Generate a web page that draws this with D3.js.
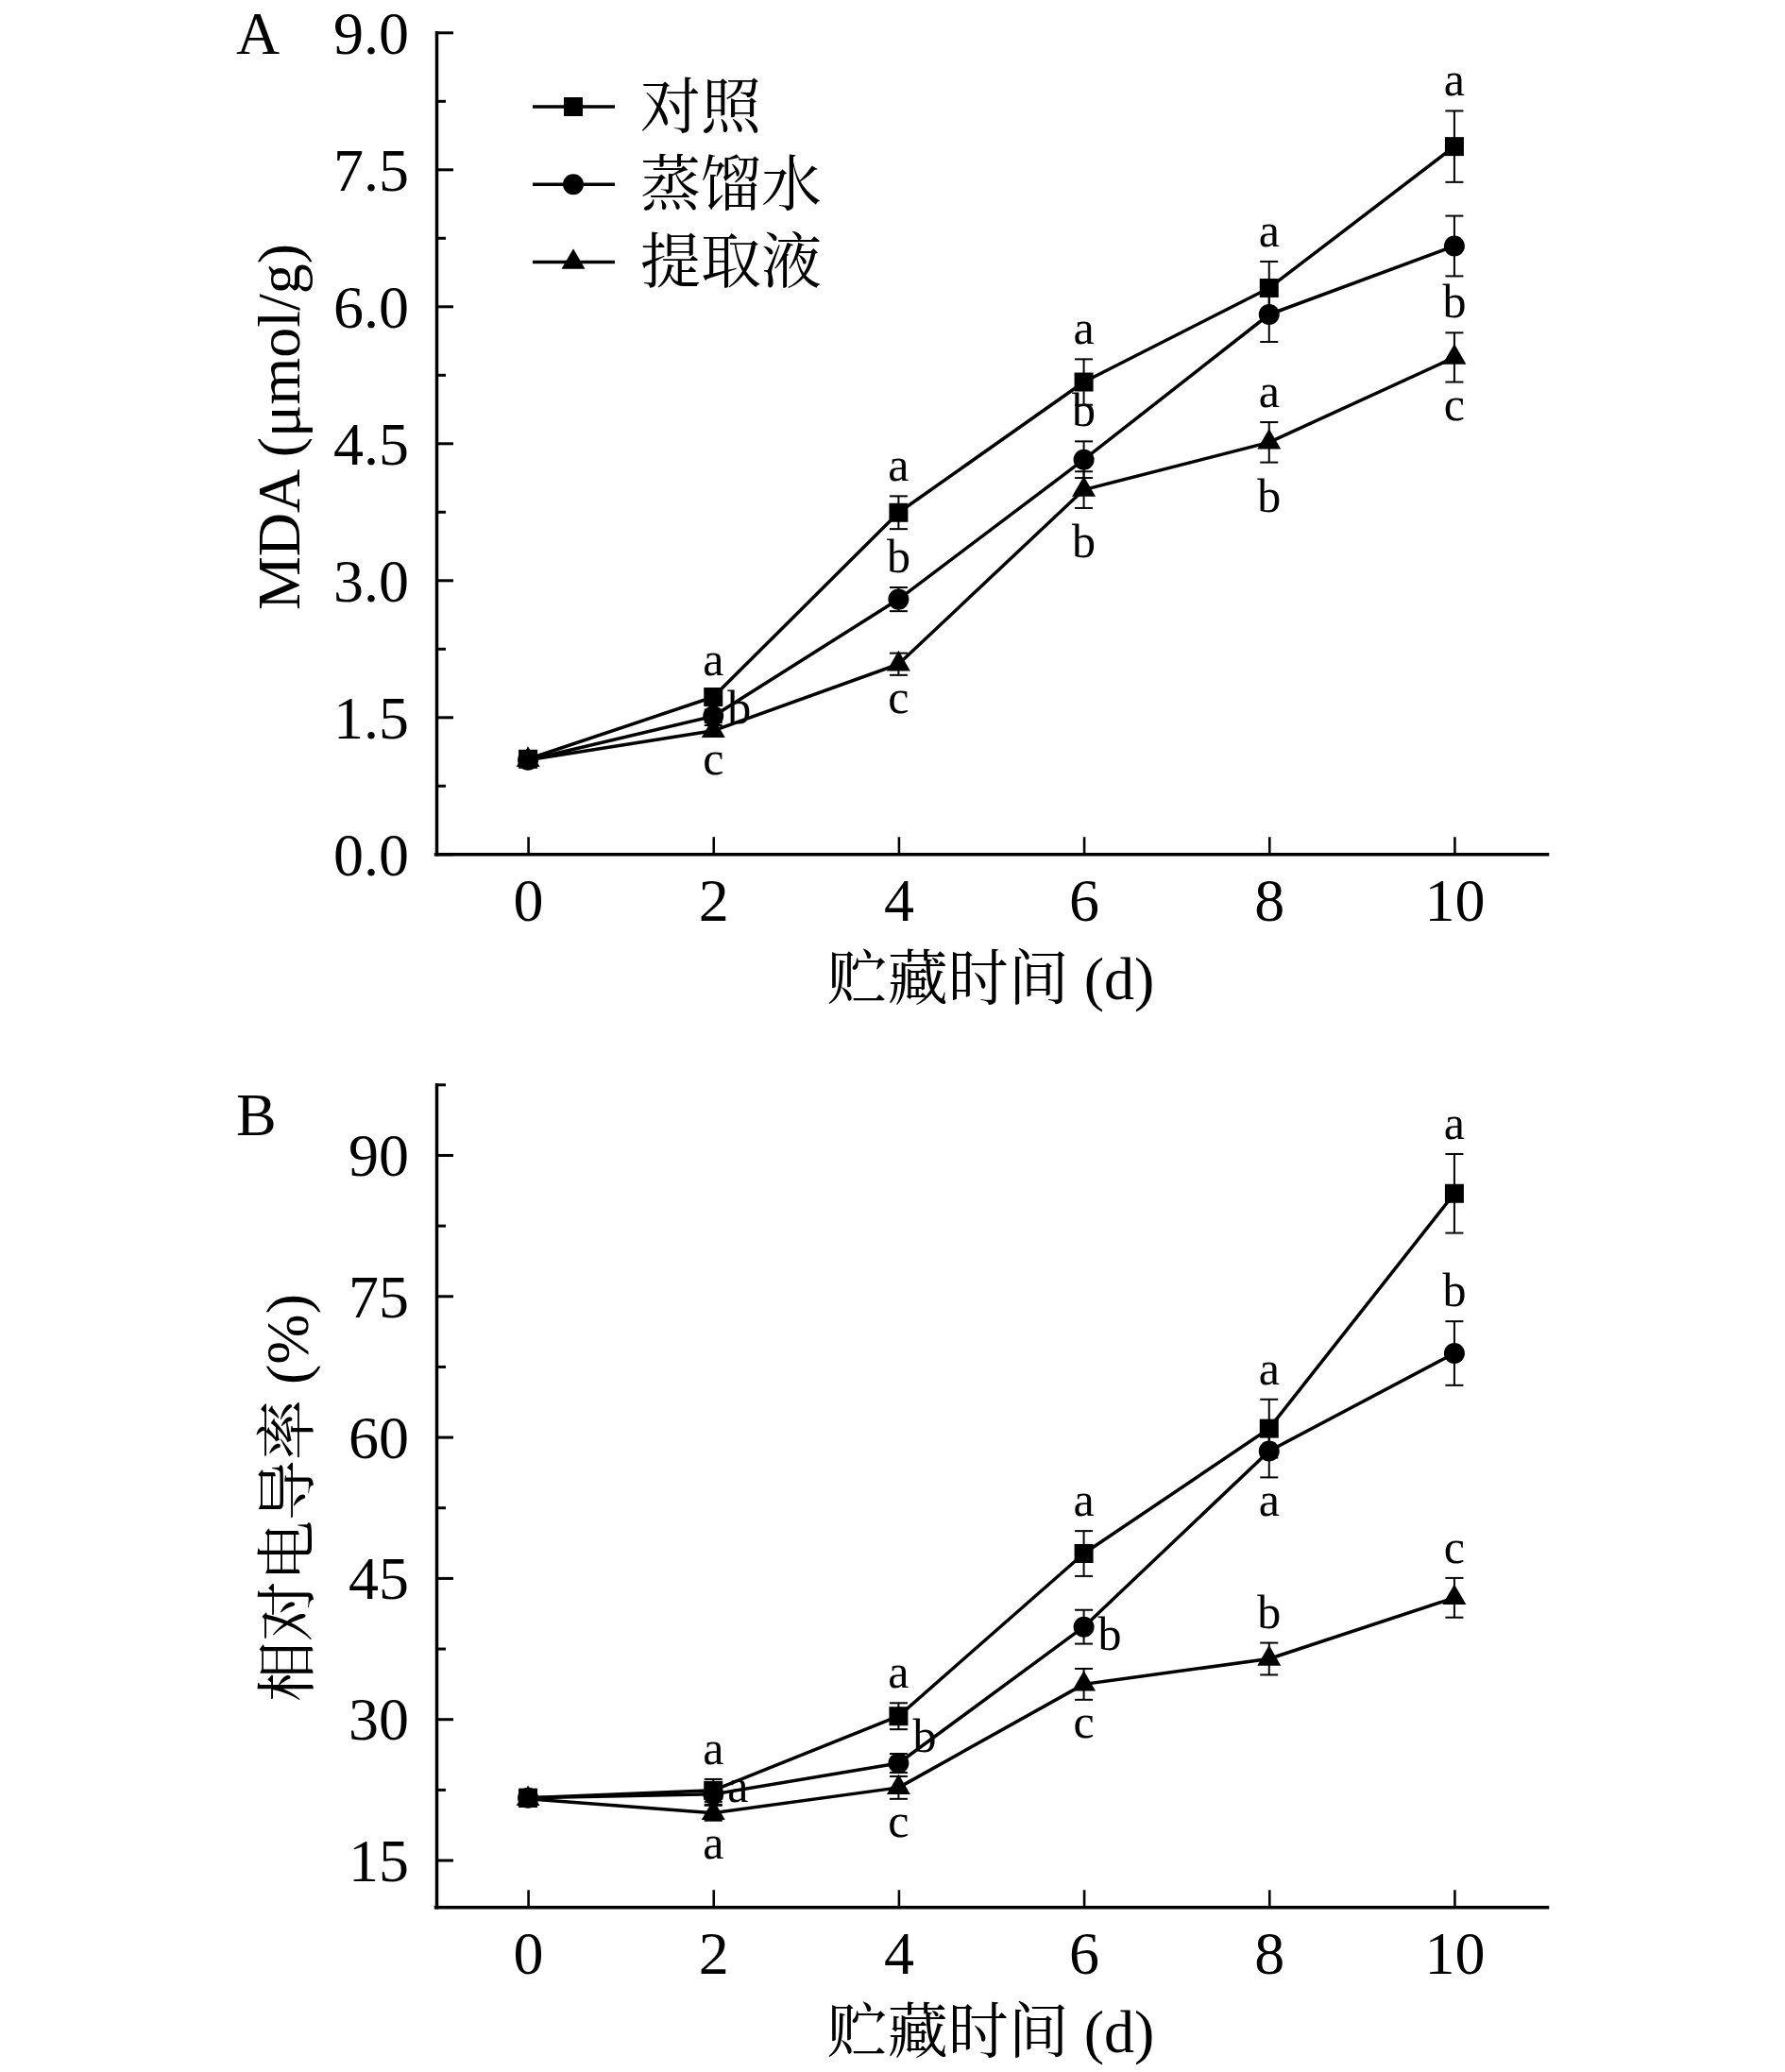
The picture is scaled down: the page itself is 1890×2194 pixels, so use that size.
<!DOCTYPE html>
<html><head><meta charset="utf-8">
<script src="https://cdn.jsdelivr.net/npm/d3@7"></script>
<style>
html,body{margin:0;padding:0;background:#fff;}
svg{display:block;}
text{fill:#000;}
</style></head>
<body>
<svg id="chart" width="1890" height="2194"></svg>
<script>
// ---------------- data ----------------
const days = [0, 2, 4, 6, 8, 10];
const seriesNames = ["对照", "蒸馏水", "提取液"];
const seriesSymbols = ["square", "circle", "triangle"];

// Panel A: MDA (μmol/g)
const mdaControl = [1.04, 1.72, 3.74, 5.17, 6.20, 7.75];
const mdaControlErr = [0.04, 0.07, 0.18, 0.25, 0.29, 0.39];
const mdaWater = [1.03, 1.51, 2.79, 4.32, 5.91, 6.66];
const mdaWaterErr = [0.04, 0.07, 0.13, 0.20, 0.30, 0.33];
const mdaExtract = [1.03, 1.35, 2.08, 3.99, 4.51, 5.44];
const mdaExtractErr = [0.04, 0.06, 0.12, 0.20, 0.22, 0.27];
const mdaMajorTicks = [0, 1.5, 3.0, 4.5, 6.0, 7.5, 9.0];
const mdaMinorTicks = [0.75, 2.25, 3.75, 5.25, 6.75, 8.25];
const mdaLetters = [
  {day: 2, text: "a", anchor: 0, place: "above"},
  {day: 2, text: "b", anchor: 1, place: "right"},
  {day: 2, text: "c", anchor: 2, place: "below"},
  {day: 4, text: "a", anchor: 0, place: "above"},
  {day: 4, text: "b", anchor: 1, place: "above"},
  {day: 4, text: "c", anchor: 2, place: "below"},
  {day: 6, text: "a", anchor: 0, place: "above"},
  {day: 6, text: "b", anchor: 1, place: "above"},
  {day: 6, text: "b", anchor: 2, place: "below"},
  {day: 8, text: "a", anchor: 0, place: "above"},
  {day: 8, text: "a", anchor: 2, place: "above"},
  {day: 8, text: "b", anchor: 2, place: "below"},
  {day: 10, text: "a", anchor: 0, place: "above"},
  {day: 10, text: "b", anchor: 2, place: "above"},
  {day: 10, text: "c", anchor: 2, place: "below"}
];

// Panel B: relative conductivity (%)
const ecControl = [21.6, 22.4, 30.3, 47.6, 60.9, 85.9];
const ecControlErr = [0.9, 1.2, 1.4, 2.4, 3.1, 4.2];
const ecWater = [21.6, 22.0, 25.3, 39.8, 58.5, 68.9];
const ecWaterErr = [0.9, 1.1, 1.0, 1.8, 2.8, 3.4];
const ecExtract = [21.5, 20.0, 22.7, 33.7, 36.4, 42.9];
const ecExtractErr = [0.8, 0.8, 1.2, 1.65, 1.7, 2.1];
const ecMajorTicks = [15, 30, 45, 60, 75, 90];
const ecMinorTicks = [22.5, 37.5, 52.5, 67.5, 82.5, 97.5];
const ecLetters = [
  {day: 2, text: "a", anchor: 0, place: "above"},
  {day: 2, text: "a", anchor: 1, place: "right"},
  {day: 2, text: "a", anchor: 2, place: "below"},
  {day: 4, text: "a", anchor: 0, place: "above"},
  {day: 4, text: "b", anchor: 1, place: "rightHigh"},
  {day: 4, text: "c", anchor: 2, place: "below"},
  {day: 6, text: "a", anchor: 0, place: "above"},
  {day: 6, text: "b", anchor: 1, place: "rightLow"},
  {day: 6, text: "c", anchor: 2, place: "below"},
  {day: 8, text: "a", anchor: 0, place: "above"},
  {day: 8, text: "a", anchor: 1, place: "below"},
  {day: 8, text: "b", anchor: 2, place: "above"},
  {day: 10, text: "a", anchor: 0, place: "above"},
  {day: 10, text: "b", anchor: 1, place: "above"},
  {day: 10, text: "c", anchor: 2, place: "above"}
];

const xTicks = [0, 2, 4, 6, 8, 10];
const xTitle = "贮藏时间 (d)";

// ---------------- style ----------------
const FONT = "'Liberation Serif','Times New Roman','Noto Serif CJK SC','Noto Sans CJK SC',serif";
const svg = d3.select("#chart");
const LINE_W = 3.5, AXIS_W = 3.5, ERR_W = 2, CAP = 9.5;
const LETTER_SIZE = 50;

const symbolGen = {
  square: d3.symbol().type(d3.symbolSquare).size(400),
  circle: d3.symbol().type(d3.symbolCircle).size(380),
  triangle: d3.symbol().type(d3.symbolTriangle).size(270)
};

function drawPanel(cfg) {
  const x = d3.scaleLinear().domain([-1, 11]).range([461, 1638]);
  const y = d3.scaleLinear().domain(cfg.yDomain).range(cfg.yRange);
  const g = svg.append("g");
  const axisY0 = cfg.yRange[0];

  // x axis
  const xAxis = d3.axisBottom(x).tickValues(xTicks).tickFormat(d3.format("d"))
    .tickSizeInner(-18).tickSizeOuter(0).tickPadding(25.6);
  const gx = g.append("g").attr("transform", `translate(0,${axisY0})`).call(xAxis);
  gx.select(".domain").attr("stroke", "#000").attr("stroke-width", AXIS_W).attr("stroke-linecap", "square");
  gx.selectAll(".tick line").attr("stroke", "#000").attr("stroke-width", 2.6);
  gx.selectAll(".tick text").attr("font-family", FONT).attr("font-size", 64).attr("fill", "#000");

  // y axis (major)
  const yAxis = d3.axisLeft(y).tickValues(cfg.majorTicks).tickFormat(cfg.fmt)
    .tickSizeInner(-18).tickSizeOuter(0).tickPadding(29);
  const gy = g.append("g").attr("transform", `translate(462,0)`).call(yAxis);
  gy.select(".domain").attr("stroke", "#000").attr("stroke-width", AXIS_W).attr("stroke-linecap", "square");
  gy.selectAll(".tick line").attr("stroke", "#000").attr("stroke-width", 3);
  gy.selectAll(".tick text").attr("font-family", FONT).attr("font-size", 64).attr("fill", "#000").attr("dy", "0.34em");
  // y axis minor
  const yMinor = d3.axisLeft(y).tickValues(cfg.minorTicks).tickFormat("").tickSizeInner(-10).tickSizeOuter(0);
  const gym = g.append("g").attr("transform", `translate(462,0)`).call(yMinor);
  gym.select(".domain").remove();
  gym.selectAll(".tick line").attr("stroke", "#000").attr("stroke-width", 3);

  // series
  const line = d3.line().x((d) => x(d.day)).y((d) => y(d.v));
  cfg.series.forEach((s, si) => {
    const pts = days.map((dd, i) => ({day: dd, v: s.values[i], e: s.errs[i]}));
    g.append("path").datum(pts).attr("d", line).attr("fill", "none")
      .attr("stroke", "#000").attr("stroke-width", LINE_W).attr("stroke-linejoin", "round");
    const eb = g.append("g").selectAll("g").data(pts).join("g");
    eb.append("line").attr("x1", (d) => x(d.day)).attr("x2", (d) => x(d.day))
      .attr("y1", (d) => y(d.v - d.e)).attr("y2", (d) => y(d.v + d.e))
      .attr("stroke", "#000").attr("stroke-width", ERR_W);
    eb.append("line").attr("x1", (d) => x(d.day) - CAP).attr("x2", (d) => x(d.day) + CAP)
      .attr("y1", (d) => y(d.v + d.e)).attr("y2", (d) => y(d.v + d.e))
      .attr("stroke", "#000").attr("stroke-width", ERR_W);
    eb.append("line").attr("x1", (d) => x(d.day) - CAP).attr("x2", (d) => x(d.day) + CAP)
      .attr("y1", (d) => y(d.v - d.e)).attr("y2", (d) => y(d.v - d.e))
      .attr("stroke", "#000").attr("stroke-width", ERR_W);
    g.append("g").selectAll("path").data(pts).join("path")
      .attr("d", symbolGen[seriesSymbols[si]]())
      .attr("transform", (d) => `translate(${x(d.day)},${y(d.v)})`)
      .attr("fill", "#000");
  });

  // significance letters
  cfg.letters.forEach((L) => {
    const s = cfg.series[L.anchor];
    const i = days.indexOf(L.day);
    const v = s.values[i], e = s.errs[i];
    const px = x(L.day);
    const tall = (L.text === "b") ? 0.683 : 0.45;
    let tx = px, ty, anchor = "middle";
    if (L.place === "above") ty = y(v + e) - 16;
    else if (L.place === "below") ty = y(v - e) + 18 + tall * LETTER_SIZE;
    else {
      tx = px + 15; anchor = "start";
      ty = y(v) + (L.place === "right" ? 8 : L.place === "rightHigh" ? -12 : 24);
    }
    g.append("text").attr("x", tx).attr("y", ty).attr("text-anchor", anchor)
      .attr("font-family", FONT).attr("font-size", LETTER_SIZE).text(L.text);
  });

  // titles
  g.append("text").attr("x", 1049).attr("y", axisY0 + 154).attr("text-anchor", "middle")
    .attr("font-family", FONT).attr("font-size", 64).text(xTitle);
  g.append("text").attr("transform", `translate(${cfg.yTitleX},${cfg.yTitleY}) rotate(-90)`)
    .attr("text-anchor", "middle").attr("font-family", FONT).attr("font-size", 64).text(cfg.yTitle);
  g.append("text").attr("x", 250).attr("y", cfg.labelY).attr("font-family", FONT)
    .attr("font-size", 64).text(cfg.label);
  return g;
}

drawPanel({
  yDomain: [0, 9], yRange: [904.3, 34.3],
  majorTicks: mdaMajorTicks, minorTicks: mdaMinorTicks, fmt: d3.format(".1f"),
  series: [
    {values: mdaControl, errs: mdaControlErr},
    {values: mdaWater, errs: mdaWaterErr},
    {values: mdaExtract, errs: mdaExtractErr}
  ],
  letters: mdaLetters,
  yTitle: "MDA (μmol/g)", yTitleX: 317, yTitleY: 452,
  label: "A", labelY: 56.7
});

drawPanel({
  yDomain: [10, 97.5], yRange: [2019.3, 1148.3],
  majorTicks: ecMajorTicks, minorTicks: ecMinorTicks, fmt: d3.format("d"),
  series: [
    {values: ecControl, errs: ecControlErr},
    {values: ecWater, errs: ecWaterErr},
    {values: ecExtract, errs: ecExtractErr}
  ],
  letters: ecLetters,
  yTitle: "相对电导率 (%)", yTitleX: 326, yTitleY: 1586,
  label: "B", labelY: 1201.7
});

// legend (panel A)
const legend = svg.append("g");
seriesNames.forEach((name, i) => {
  const ly = 113 + i * 82.3;
  legend.append("line").attr("x1", 564).attr("x2", 651).attr("y1", ly).attr("y2", ly)
    .attr("stroke", "#000").attr("stroke-width", LINE_W);
  legend.append("path").attr("d", symbolGen[seriesSymbols[i]]())
    .attr("transform", `translate(607,${ly})`).attr("fill", "#000");
  legend.append("text").attr("x", 678).attr("y", ly).attr("dominant-baseline", "central")
    .attr("font-family", FONT).attr("font-size", 64).text(name);
});
</script>
</body></html>
